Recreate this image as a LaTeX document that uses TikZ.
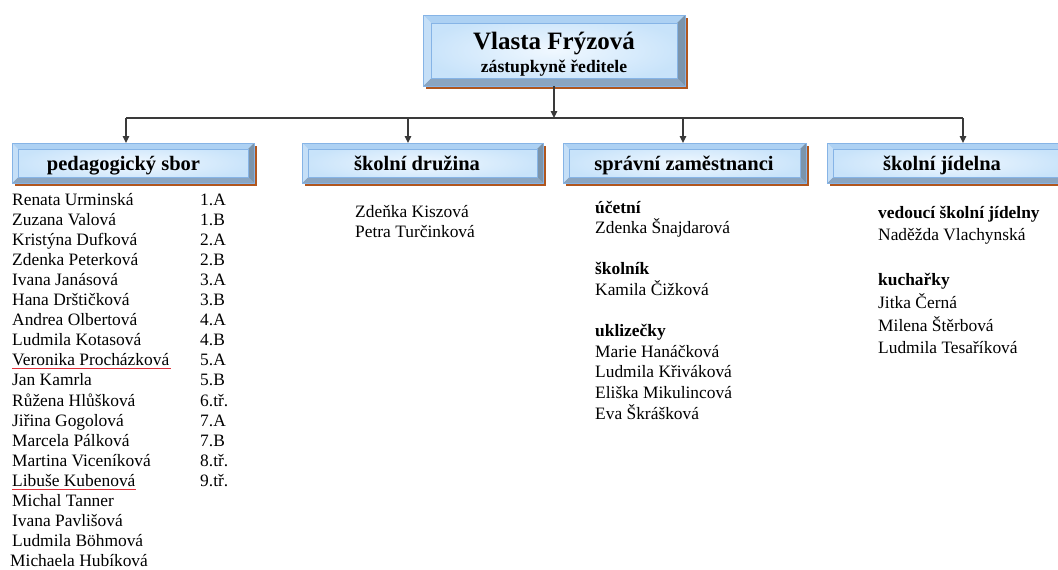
\documentclass[tikz,border=0pt]{standalone}
\usepackage{fontspec}
\setmainfont{Liberation Serif}
\usepackage{tikz}
\usetikzlibrary{calc,shadows,arrows.meta}

\definecolor{boxedge}{HTML}{86B4E6}
\definecolor{boxfill}{HTML}{C8E3FA}
\definecolor{boxmid}{HTML}{F0F8FF}
\definecolor{bevtop}{HTML}{ADD1F3}
\definecolor{bevleft}{HTML}{C5DFF7}
\definecolor{bevright}{HTML}{7B94AB}
\definecolor{bevbot}{HTML}{8AA5C1}
\definecolor{boxshadow}{HTML}{B0561E}
\definecolor{linkgray}{HTML}{3A3A3A}
\definecolor{spellred}{HTML}{E0303A}

\tikzset{
	bevbox/.style={draw=boxedge,line width=0.8pt,inner sep=0pt,outer sep=0pt,
		inner color=boxmid,outer color=boxfill,
		drop shadow={shadow xshift=2.5pt,shadow yshift=-2.5pt,fill=boxshadow,opacity=1},
		path picture={
			\path (path picture bounding box.north west) coordinate (pp-nw)
				(path picture bounding box.north east) coordinate (pp-ne)
				(path picture bounding box.south west) coordinate (pp-sw)
				(path picture bounding box.south east) coordinate (pp-se);
			\fill[bevtop] (pp-nw) -- (pp-ne) -- ([shift={(-#1,-#1)}]pp-ne) -- ([shift={(#1,-#1)}]pp-nw) -- cycle;
			\fill[bevbot] (pp-sw) -- (pp-se) -- ([shift={(-#1,#1)}]pp-se) -- ([shift={(#1,#1)}]pp-sw) -- cycle;
			\fill[bevleft] (pp-nw) -- (pp-sw) -- ([shift={(#1,#1)}]pp-sw) -- ([shift={(#1,-#1)}]pp-nw) -- cycle;
			\fill[bevright] (pp-ne) -- (pp-se) -- ([shift={(-#1,#1)}]pp-se) -- ([shift={(-#1,-#1)}]pp-ne) -- cycle;
			\draw[boxedge,line width=0.5pt] ([shift={(#1,-#1)}]pp-nw) rectangle ([shift={(-#1,#1)}]pp-se);
		}},
	head/.style={anchor=base,inner sep=0pt,font=\fontsize{20.5}{24}\selectfont\bfseries},
	who/.style={anchor=base west,inner sep=0pt,font=\fontsize{17.4}{20}\selectfont},
	link/.style={linkgray,line width=1.2pt},
	tip/.style={-{Triangle[length=7pt,width=6.5pt]}},
	spell/.style={spellred,line width=0.9pt}
}

\begin{document}
\begin{tikzpicture}[x=1pt,y=-1pt]
	\useasboundingbox (0,0) rectangle (1058,570);

	% boxes
	\node[bevbox=8pt,minimum width=262pt,minimum height=71pt] (zast) at (554,50.5) {};
	\node[anchor=base,inner sep=0pt,font=\fontsize{25}{30}\selectfont\bfseries] (zast-name) at (554,49) {Vlasta Frýzová};
	\node[anchor=base,inner sep=0pt,font=\fontsize{17.6}{21}\selectfont\bfseries] (zast-role) at (554,72) {zástupkyně ředitele};

	\node[bevbox=6pt,minimum width=242pt,minimum height=40pt] (ped) at (133,163) {};
	\node[bevbox=6pt,minimum width=241pt,minimum height=40pt] (druz) at (422.5,163) {};
	\node[bevbox=6pt,minimum width=243pt,minimum height=40pt] (sprav) at (684.5,163) {};
	\node[bevbox=6pt,minimum width=243pt,minimum height=40pt] (jid) at (948.5,163) {};
	\node[head] (ped-head) at (123.5,170) {pedagogický sbor};
	\node[head] (druz-head) at (417,170) {školní družina};
	\node[head] (sprav-head) at (684,170) {správní zaměstnanci};
	\node[head] (jid-head) at (942,170) {školní jídelna};

	% connectors
	\coordinate (bus) at (554,118);
	\coordinate (bus-1) at (126,118);
	\coordinate (bus-2) at (408,118);
	\coordinate (bus-3) at (683,118);
	\coordinate (bus-4) at (963,118);
	\draw[link,tip] (zast.south) -- (bus);
	\draw[link] (bus-1) -- (bus-4);
	\draw[link,tip] (bus-1) -- (bus-1 |- ped.north);
	\draw[link,tip] (bus-2) -- (bus-2 |- druz.north);
	\draw[link,tip] (bus-3) -- (bus-3 |- sprav.north);
	\draw[link,tip] (bus-4) -- (bus-4 |- jid.north);

	% pedagogicky sbor
	\foreach \who [count=\k] in {Renata Urminská, Zuzana Valová, Kristýna Dufková, Zdenka Peterková,
		Ivana Janásová, Hana Drštičková, Andrea Olbertová, Ludmila Kotasová, Veronika Procházková,
		Jan Kamrla, Růžena Hlůšková, Jiřina Gogolová, Marcela Pálková, Martina Viceníková,
		Libuše Kubenová, Michal Tanner, Ivana Pavlišová, Ludmila Böhmová}{
		\node[who] (ped-\k) at (12,{205+20.1*(\k-1)}) {\who};
	}
	\node[who] (ped-19) at (10,{205+20.1*18}) {Michaela Hubíková};
	\foreach \cls [count=\k] in {1.A, 1.B, 2.A, 2.B, 3.A, 3.B, 4.A, 4.B, 5.A, 5.B, 6.tř., 7.A, 7.B, 8.tř., 9.tř.}{
		\node[who] (cls-\k) at (200,{205+20.1*(\k-1)}) {\cls};
	}
	\draw[spell] ($(ped-9.base west)+(0,3)$) -- ($(ped-9.base east)+(2,3)$);
	\draw[spell] ($(ped-15.base west)+(0,3)$) -- ($(ped-15.base east)+(0,3)$);

	% skolni druzina
	\foreach \i/\who in {0/Zdeňka Kiszová, 1/Petra Turčinková}{
		\node[who] (druz-\i) at (355,{217+20*\i}) {\who};
	}

	% spravni zamestnanci
	\foreach \i/\who in {0/\textbf{účetní}, 1/Zdenka Šnajdarová, 3/\textbf{školník}, 4/Kamila Čižková,
		6/\textbf{uklizečky}, 7/Marie Hanáčková, 8/Ludmila Křiváková, 9/Eliška Mikulincová, 10/Eva Škrášková}{
		\node[who] (sprav-\i) at (595,{213+20.6*\i}) {\who};
	}

	% skolni jidelna
	\foreach \i/\who in {0/\textbf{vedoucí školní jídelny}, 1/Naděžda Vlachynská, 3/\textbf{kuchařky},
		4/Jitka Černá, 5/Milena Štěrbová, 6/Ludmila Tesaříková}{
		\node[who] (jid-\i) at (878,{218+22.6*\i}) {\who};
	}
\end{tikzpicture}
\end{document}
